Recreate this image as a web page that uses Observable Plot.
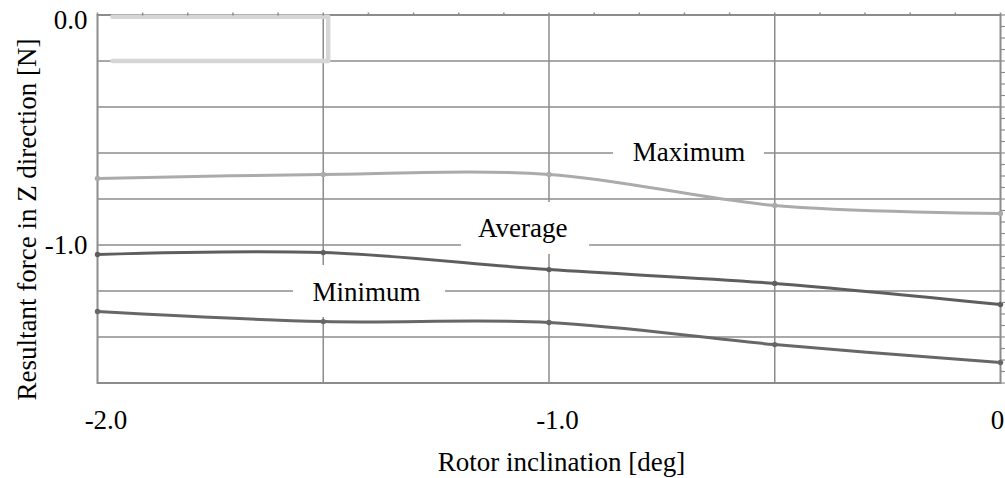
<!DOCTYPE html>
<html>
<head>
<meta charset="utf-8">
<script src="https://cdn.jsdelivr.net/npm/d3@7"></script>
<script src="https://cdn.jsdelivr.net/npm/@observablehq/plot@0.6"></script>
<style>
  html, body { margin: 0; padding: 0; background: #fff; }
  #chart svg { display: block; }
  #chart svg text { font-family: 'Liberation Serif', 'Times New Roman', serif; }
</style>
</head>
<body>
<div id="chart"></div>
<script>
// Rotor inclination [deg] at which the force was evaluated
const inclination = [-2.0, -1.5, -1.0, -0.5, 0];

// Resultant force in Z direction [N] for each inclination
const maximum = [-0.711, -0.693, -0.693, -0.828, -0.863];
const average = [-1.041, -1.033, -1.107, -1.167, -1.259];
const minimum = [-1.289, -1.333, -1.337, -1.433, -1.511];

// Labelled ticks
const xTickValues = [-2, -1];
const xTickText = ["-2.0", "-1.0"];
const xEndTickValue = [0];
const xEndTickText = ["0"];
const yTopTickValue = [0];
const yTopTickText = ["0.0"];
const yTickValues = [-1];
const yTickText = ["-1.0"];

// Grid lines
const xGrid = [-1.5, -1.0, -0.5];
const yGrid = [-0.2, -0.4, -0.6, -0.8, -1.0, -1.2, -1.4];

// Series names placed on the chart, with their white label panels (data units)
const seriesNames = ["Maximum", "Average", "Minimum"];
const nameX = [-0.690, -1.058, -1.404];
const nameY = [-0.596, -0.928, -1.204];
const panelX1 = [-0.857, -1.194, -1.566];
const panelX2 = [-0.523, -0.910, -1.229];
const panelY1 = [-0.485, -0.815, -1.089];
const panelY2 = [-0.708, -1.041, -1.315];

// Empty legend panel in the top-left corner (data units)
const legendPanelX = [-1.967, -1.489, -1.489, -1.967];
const legendPanelY = [-0.008, -0.008, -0.2, -0.2];

const rows = [];
const series = [
  {name: "Maximum", values: maximum, color: "#ababab"},
  {name: "Average", values: average, color: "#5e5e5e"},
  {name: "Minimum", values: minimum, color: "#676767"}
];
for (const s of series) {
  inclination.forEach((x, i) => rows.push({series: s.name, x, y: s.values[i], color: s.color}));
}
const names = seriesNames.map((label, i) => ({label, x: nameX[i], y: nameY[i], x1: panelX1[i], x2: panelX2[i], y1: panelY1[i], y2: panelY2[i]}));
const legendPanel = legendPanelX.map((x, i) => ({x, y: legendPanelY[i]}));

const font = "'Liberation Serif', 'Times New Roman', serif";
const gridColor = "#8c8c8c";
const blank = () => "";
const txt = {fontSize: 27, fontFamily: font, fill: "#000"};

const chart = Plot.plot({
  width: 1005,
  height: 478,
  marginLeft: 97,
  marginRight: 5,
  marginTop: 14.5,
  marginBottom: 95.5,
  style: {fontFamily: font, fontSize: "27px", color: "#000", background: "#fff"},
  x: {domain: [-2, 0]},
  y: {domain: [-1.6, 0]},
  marks: [
    Plot.ruleX(xGrid, {stroke: gridColor, strokeWidth: 1.5}),
    Plot.ruleY(yGrid, {stroke: gridColor, strokeWidth: 1.5}),
    Plot.rect(names, {x1: "x1", x2: "x2", y1: "y1", y2: "y2", fill: "#fff"}),
    Plot.frame({stroke: gridColor, strokeWidth: 2}),
    Plot.line(legendPanel, {x: "x", y: "y", stroke: "#d6d6d6", strokeWidth: 4.5}),
    Plot.line(rows, {x: "x", y: "y", z: "series", stroke: "color", strokeWidth: 3, curve: "catmull-rom"}),
    Plot.dot(rows, {x: "x", y: "y", fill: "color", r: 2.7}),
    Plot.text(names, {x: "x", y: "y", text: "label", ...txt}),
    // minor ticks on the top and right edges
    Plot.axisX({anchor: "top", ticks: d3.range(0, 21).map(i => -2 + i / 10), tickSize: 3, tickFormat: blank, label: null, stroke: gridColor, strokeWidth: 1.5}),
    Plot.axisY({anchor: "right", ticks: d3.range(0, 33).map(i => -i * 0.05), tickSize: 5, tickFormat: blank, label: null, stroke: gridColor, strokeWidth: 1.2}),
    // tick labels
    Plot.text(xTickValues, {x: d => d, text: (d, i) => xTickText[i], frameAnchor: "bottom", textAnchor: "middle", dy: 37, dx: 8.5, lineAnchor: "middle", ...txt}),
    Plot.text(xEndTickValue, {x: d => d, text: (d, i) => xEndTickText[i], frameAnchor: "bottom", textAnchor: "middle", dy: 37, dx: -3, lineAnchor: "middle", ...txt}),
    Plot.text(yTopTickValue, {y: d => d, text: (d, i) => yTopTickText[i], frameAnchor: "left", dx: -10, dy: 5, textAnchor: "end", lineAnchor: "middle", ...txt}),
    Plot.text(yTickValues, {y: d => d, text: (d, i) => yTickText[i], frameAnchor: "left", dx: -10, textAnchor: "end", lineAnchor: "middle", ...txt}),
    // axis titles
    Plot.text(["Rotor inclination [deg]"], {text: d => d, frameAnchor: "bottom", textAnchor: "middle", dx: 12.5, dy: 87.5, lineAnchor: "bottom", ...txt}),
    Plot.text(["Resultant force in Z direction [N]"], {text: d => d, frameAnchor: "left", textAnchor: "middle", rotate: -90, dx: -62, dy: 20.5, lineAnchor: "bottom", ...txt})
  ]
});
document.getElementById("chart").appendChild(chart);
</script>
</body>
</html>
